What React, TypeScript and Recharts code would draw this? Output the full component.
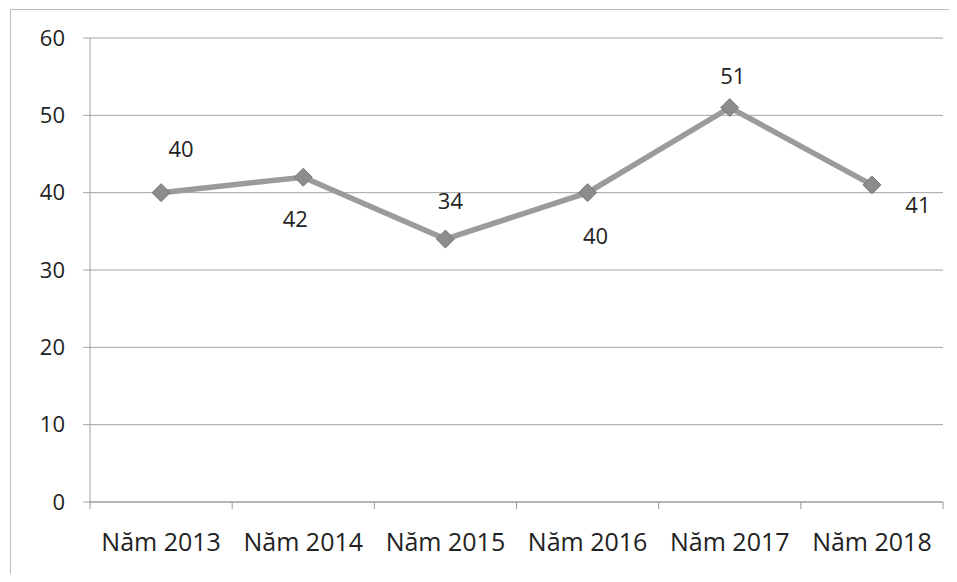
import { CartesianGrid, LabelList, Line, LineChart, XAxis, YAxis } from "recharts"

const years = ["Năm 2013", "Năm 2014", "Năm 2015", "Năm 2016", "Năm 2017", "Năm 2018"]
const values = [40, 42, 34, 40, 51, 41]
const yTicks = [0, 10, 20, 30, 40, 50, 60]

// where each value label sits relative to its marker (layout only)
const labelOffsets = [
  [20, -45],
  [-8, 41],
  [5, -39],
  [8, 42],
  [3, -33],
  [46, 19],
]

const chartData = years.map((year, i) => ({ year, value: values[i] }))

const W = 941
const H = 566
const PLOT_LEFT = 82
const PLOT_RIGHT = 6
const STEP = (W - PLOT_LEFT - PLOT_RIGHT) / years.length
const FONT = "'Open Sans', sans-serif"

function Diamond(props: any) {
  const { cx, cy } = props
  if (cx == null || cy == null) return null
  const r = 9
  return (
    <polygon
      points={`${cx},${cy - r} ${cx + r},${cy} ${cx},${cy + r} ${cx - r},${cy}`}
      fill="#8c8c8c"
      stroke="#7a7a7a"
      strokeWidth={1}
    />
  )
}

function XTick(props: any) {
  const { x, y, payload, index } = props
  const axisY = y - 8
  return (
    <g>
      <line x1={x - STEP / 2} x2={x - STEP / 2} y1={axisY} y2={axisY + 7} stroke="#999" />
      {index === years.length - 1 && (
        <line x1={x + STEP / 2} x2={x + STEP / 2} y1={axisY} y2={axisY + 7} stroke="#999" />
      )}
      <text x={x} y={axisY + 49} textAnchor="middle" fontSize={25} fill="#222" fontFamily={FONT}>
        {payload.value}
      </text>
    </g>
  )
}

function ValueLabel(props: any) {
  const { x, y, value, index } = props
  const [dx, dy] = labelOffsets[index] || [0, -30]
  return (
    <text
      x={x + dx}
      y={y + dy}
      textAnchor="middle"
      dominantBaseline="central"
      fontSize={22}
      fill="#222"
      fontFamily={FONT}
    >
      {value}
    </text>
  )
}

export default function App() {
  return (
    <div style={{ position: "relative", width: W, height: H, background: "#fff" }}>
      <div
        style={{
          position: "absolute",
          left: 2,
          top: 1,
          width: W,
          height: H,
          borderLeft: "1px solid #bdbdbd",
          borderTop: "1px solid #bdbdbd",
        }}
      />
      <div style={{ position: "absolute", left: 0, top: 0 }}>
        <LineChart
          width={W}
          height={H}
          data={chartData}
          margin={{ top: 30, right: PLOT_RIGHT, left: 0, bottom: 0 }}
        >
          <CartesianGrid vertical={false} stroke="#a3a3a3" strokeWidth={1} />
          <XAxis
            dataKey="year"
            height={72}
            axisLine={{ stroke: "#999" }}
            tickLine={false}
            tick={<XTick />}
            interval={0}
            padding={{ left: STEP / 2, right: STEP / 2 }}
          />
          <YAxis
            width={PLOT_LEFT}
            domain={[0, 60]}
            ticks={yTicks}
            axisLine={{ stroke: "#a3a3a3" }}
            tickLine={{ stroke: "#a3a3a3" }}
            tickSize={7}
            tickMargin={18}
            tick={{ fontSize: 22, fill: "#222", fontFamily: FONT }}
          />
          <Line
            type="linear"
            dataKey="value"
            stroke="#9b9b9b"
            strokeWidth={5.5}
            dot={<Diamond />}
            activeDot={false}
            isAnimationActive={false}
          >
            <LabelList dataKey="value" content={<ValueLabel />} />
          </Line>
        </LineChart>
      </div>
    </div>
  )
}
